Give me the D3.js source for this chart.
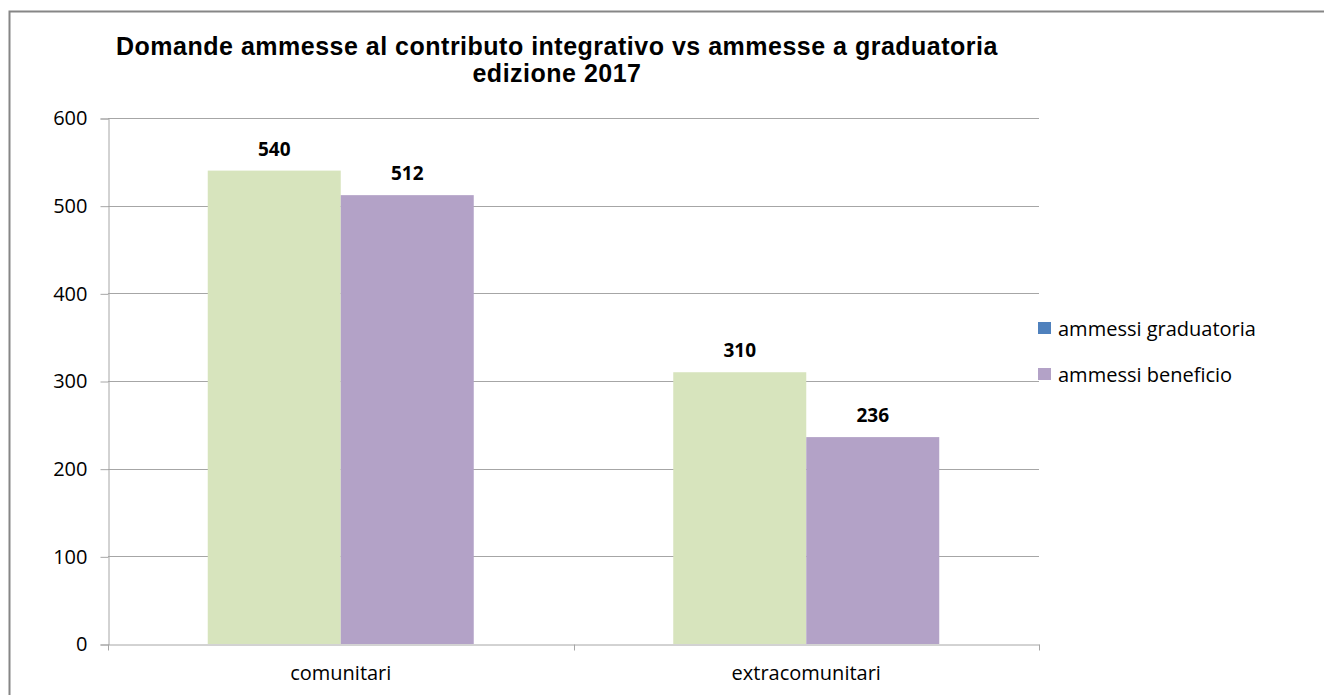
<!DOCTYPE html>
<html>
<head>
<meta charset="utf-8">
<script src="https://cdn.jsdelivr.net/npm/d3@7"></script>
<style>
  body { margin: 0; background: #fff; overflow: hidden; }
  svg { display: block; }
</style>
</head>
<body>
<script>
// chart data
const categories = ["comunitari", "extracomunitari"];
const seriesNames = ["ammessi graduatoria", "ammessi beneficio"];
const graduatoria = [540, 310];
const beneficio = [512, 236];
const yTicks = [0, 100, 200, 300, 400, 500, 600];

// colours: bars are green/purple, legend swatch for first series is blue (as in the original)
const barColors = ["#d7e4bd", "#b3a2c7"];
const legendColors = ["#4f81bd", "#b3a2c7"];

const w = 1324, h = 695;
const plot = { left: 108, right: 1039, top: 118, bottom: 644 };
const labelFont = "Open Sans, Lato, sans-serif";

const svg = d3.select("body").append("svg")
  .attr("width", w)
  .attr("height", h);

// outer chart border (runs off the right and bottom edges)
svg.append("rect")
  .attr("x", 9.5).attr("y", 11.5)
  .attr("width", 1400).attr("height", 800)
  .attr("fill", "none")
  .attr("stroke", "#868686")
  .attr("stroke-width", 2);

// title
const title = svg.append("text")
  .attr("text-anchor", "middle")
  .style("font-family", "Liberation Sans, Arial, sans-serif")
  .style("font-weight", "bold")
  .style("font-size", "25px")
  .style("letter-spacing", "0.5px")
  .attr("fill", "#000");
title.append("tspan").attr("x", 557).attr("y", 55)
  .text("Domande ammesse al contributo integrativo vs ammesse a graduatoria");
title.append("tspan").attr("x", 557).attr("y", 82)
  .text("edizione 2017");

const y = d3.scaleLinear().domain([0, 600]).range([plot.bottom, plot.top]);
const x0 = d3.scaleBand().domain(categories).range([plot.left, plot.right]).padding(0);
const groupW = 266;
const x1 = d3.scaleBand().domain(seriesNames).range([0, groupW]).padding(0);

// gridlines
svg.append("g").selectAll("line")
  .data(yTicks.filter(d => d > 0))
  .join("line")
  .attr("x1", plot.left).attr("x2", plot.right)
  .attr("y1", d => Math.round(y(d)) + 0.5)
  .attr("y2", d => Math.round(y(d)) + 0.5)
  .attr("stroke", "#a6a6a6")
  .attr("stroke-width", 1);

// y axis
const yAxis = svg.append("g")
  .attr("transform", "translate(" + (plot.left + 0.5) + ",0.5)")
  .call(d3.axisLeft(y).tickValues(yTicks).tickSize(8).tickPadding(13));
yAxis.select(".domain").attr("stroke", "#a6a6a6");
yAxis.selectAll(".tick line").attr("stroke", "#a6a6a6");
yAxis.selectAll(".tick text")
  .style("font-family", labelFont)
  .style("font-size", "20px")
  .attr("fill", "#000");

// bars
const data = categories.map((c, i) => ({ cat: c, values: [graduatoria[i], beneficio[i]] }));
const groups = svg.append("g").selectAll("g")
  .data(data)
  .join("g")
  .attr("transform", d => "translate(" + (x0(d.cat) + (x0.bandwidth() - groupW) / 2) + ",0)");

groups.selectAll("rect")
  .data(d => d.values.map((v, j) => ({ name: seriesNames[j], value: v, j: j })))
  .join("rect")
  .attr("x", d => x1(d.name))
  .attr("y", d => y(d.value))
  .attr("width", x1.bandwidth())
  .attr("height", d => y(0) - y(d.value))
  .attr("fill", d => barColors[d.j]);

// value labels
groups.selectAll("text")
  .data(d => d.values.map((v, j) => ({ name: seriesNames[j], value: v })))
  .join("text")
  .attr("x", d => x1(d.name) + x1.bandwidth() / 2)
  .attr("y", d => y(d.value) - 15)
  .attr("text-anchor", "middle")
  .style("font-family", labelFont)
  .style("font-weight", "bold")
  .style("font-size", "19px")
  .attr("fill", "#000")
  .text(d => d.value);

// x axis
const xAxis = svg.append("g")
  .attr("transform", "translate(0," + (plot.bottom + 0.5) + ")")
  .call(d3.axisBottom(x0).tickSize(0).tickPadding(21));
xAxis.select(".domain").attr("stroke", "#a6a6a6");
xAxis.selectAll(".tick text")
  .style("font-family", labelFont)
  .style("font-size", "20px")
  .attr("fill", "#000");
// category separators
xAxis.append("g").selectAll("line")
  .data([plot.left, (plot.left + plot.right) / 2, plot.right])
  .join("line")
  .attr("x1", d => Math.round(d) + 0.5).attr("x2", d => Math.round(d) + 0.5)
  .attr("y1", 0).attr("y2", 6)
  .attr("stroke", "#a6a6a6");

// legend
const legend = svg.append("g").selectAll("g")
  .data(seriesNames)
  .join("g")
  .attr("transform", (d, i) => "translate(1038," + (322 + i * 46) + ")");
legend.append("rect")
  .attr("width", 13).attr("height", 12)
  .attr("fill", (d, i) => legendColors[i]);
legend.append("text")
  .attr("x", 20).attr("y", 14)
  .style("font-family", labelFont)
  .style("font-size", "20px")
  .attr("fill", "#000")
  .text(d => d);
</script>
</body>
</html>
